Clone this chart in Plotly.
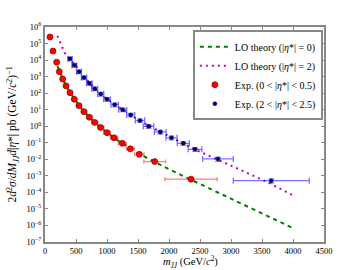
import plotly.graph_objects as go

# Experimental data, |eta*| < 0.5
red_m = [80, 129, 188, 231, 285, 339, 403, 473, 548, 629, 715, 801, 898, 1000, 1113, 1247, 1376, 1521, 1769, 2355]
red_y = [2.5e5, 3.5e4, 7.5e3, 2.0e3, 720, 275, 107, 43, 17.6, 7.6, 3.5, 1.7, 0.83, 0.41, 0.20, 0.093, 0.043, 0.020, 7.3e-3, 6.3e-4]
red_xerr = [22, 24, 26, 26, 27, 30, 33, 37, 40, 43, 45, 48, 50, 55, 60, 65, 65, 75, 175, 422]
red_yerr = [3e4, 4e3, 8e2, 2e2, 70, 25, 10, 4, 1.6, 0.7, 0.3, 0.15, 0.08, 0.04, 0.02, 0.01, 0.005, 0.003, 1.2e-3, 1.5e-4]

# Experimental data, 2 < |eta*| < 2.5
blue_m = [403, 473, 548, 629, 715, 801, 898, 1000, 1124, 1253, 1382, 1532, 1670, 1860, 2040, 2231, 2420, 2790, 3650]
blue_y = [1.2e4, 4.9e3, 2.0e3, 870, 400, 187, 89, 43, 20, 10, 4.8, 2.2, 1.0, 0.45, 0.20, 0.093, 0.040, 0.0105, 5.1e-4]
blue_xerr = [33, 37, 40, 43, 45, 48, 50, 55, 60, 65, 65, 75, 85, 95, 90, 97, 110, 247, 613]
blue_yerr = [3e3, 1.2e3, 5e2, 2e2, 1e2, 45, 22, 10, 5, 2.4, 1.1, 0.5, 0.25, 0.11, 0.05, 0.022, 0.01, 3e-3, 1.5e-4]

# LO theory curves
th0_m = [200, 300, 400, 500, 600, 800, 1000, 1200, 1500, 2000, 2500, 3000, 3500, 4000]
th0_y = [4.5e3, 560, 112, 31, 10, 1.74, 0.41, 0.12, 0.023, 2.5e-3, 3.2e-4, 4.0e-5, 5.2e-6, 6.9e-7]
th2_m = [200, 320, 400, 500, 600, 800, 1000, 1250, 1500, 1700, 2000, 2400, 2800, 3200, 3600, 4000]
th2_y = [2.9e5, 2.6e4, 1.2e4, 4.3e3, 1.3e3, 190, 43, 10, 2.5, 0.95, 0.24, 0.042, 9.0e-3, 1.9e-3, 4.0e-4, 6.5e-5]

xticks = [0, 500, 1000, 1500, 2000, 2500, 3000, 3500, 4000, 4500]
yexp = list(range(-7, 7))

FONT = "Liberation Serif"
fig = go.Figure()

fig.add_trace(go.Scatter(x=th0_m, y=th0_y, mode="lines", name="LO theory (|<i>η</i>*| = 0)",
                         line=dict(color="#008000", width=2, dash="4px,4px")))
fig.add_trace(go.Scatter(x=th2_m, y=th2_y, mode="lines", name="LO theory (|<i>η</i>*| = 2)",
                         line=dict(color="#bf00bf", width=2, dash="2px,4px")))
fig.add_trace(go.Scatter(x=red_m, y=red_y, mode="markers", name="Exp. (0 < |<i>η</i>*| < 0.5)",
                         marker=dict(color="#ff0000", size=6, line=dict(color="#8b0000", width=0.7)),
                         error_x=dict(type="data", array=red_xerr, color="rgba(255,0,0,0.5)", thickness=1.3, width=2),
                         error_y=dict(type="data", array=red_yerr, color="rgba(255,0,0,0.5)", thickness=1.3, width=2)))
fig.add_trace(go.Scatter(x=blue_m, y=blue_y, mode="markers", name="Exp. (2 < |<i>η</i>*| < 2.5)",
                         marker=dict(color="#000060", size=4, line=dict(color="#000080", width=0.5)),
                         error_x=dict(type="data", array=blue_xerr, color="rgba(0,0,255,0.55)", thickness=1.3, width=3),
                         error_y=dict(type="data", array=blue_yerr, color="rgba(0,0,255,0.45)", thickness=1.3, width=3)))

axis_common = dict(showline=True, linecolor="#888888", linewidth=2, mirror="ticks",
                   ticks="inside", ticklen=3, tickcolor="#888888", showgrid=False, zeroline=False,
                   automargin=False, tickfont=dict(family=FONT, size=8.5, color="black"))

fig.update_layout(
    width=360, height=270, autosize=False,
    margin=dict(l=45, r=36, t=27, b=28, pad=0, autoexpand=False),
    paper_bgcolor="white", plot_bgcolor="white",
    font=dict(family=FONT, size=9, color="black"),
    showlegend=True,
    legend=dict(x=0.53, y=0.985, xanchor="left", yanchor="top", bgcolor="white",
                bordercolor="#888888", borderwidth=2, font=dict(family=FONT, size=10),
                itemwidth=30, tracegroupgap=0),
    xaxis=dict(range=[0, 4500], tickvals=xticks, ticktext=[str(v) for v in xticks], **axis_common),
    yaxis=dict(type="log", range=[-7, 6], tickvals=[10.0 ** e for e in yexp + [6]],
               ticktext=["10<sup>%s</sup>" % (str(e).replace("-", "−")) for e in yexp + [6]],
               **axis_common),
    annotations=[
        dict(text="<i>m</i><sub><i>JJ</i></sub> (GeV/<i>c</i><sup>2</sup>)", xref="paper", yref="paper",
             x=0.52, y=-0.045, xanchor="center", yanchor="top", showarrow=False,
             font=dict(family=FONT, size=10.5)),
        dict(text="2<i>d</i><sup>2</sup><i>σ</i>/<i>dM</i><sub><i>JJ</i></sub><i>d</i>|<i>η</i>*| pb (GeV/<i>c</i><sup>2</sup>)<sup>−1</sup>",
             xref="paper", yref="paper", x=-0.118, y=0.5, xanchor="center", yanchor="middle",
             textangle=-90, showarrow=False, font=dict(family=FONT, size=11.5)),
    ],
)

fig.write_html("out.html", config={"displayModeBar": False},
               post_script="document.body.style.margin='0';document.body.style.overflow='hidden';")
